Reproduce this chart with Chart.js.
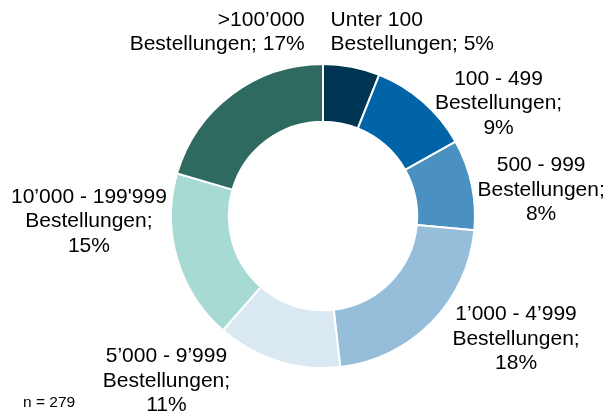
<!DOCTYPE html>
<html>
<head>
<meta charset="utf-8">
<script src="https://cdn.jsdelivr.net/npm/chart.js@4"></script>
<style>
  html, body { margin: 0; padding: 0; background: #fff; }
  #wrap { position: relative; width: 615px; height: 411px; }
</style>
</head>
<body>
<div id="wrap"><canvas id="bestellChart"></canvas></div>
<script>
// categories and shares (percent)
const categories = [
    "Unter 100",
    "100 - 499",
    "500 - 999",
    "1’000 - 4’999",
    "5’000 - 9’999",
    "10’000 - 199'999",
    ">100’000",
];
const shares = [5, 9, 8, 18, 11, 15, 17];
const sampleSize = 279;

const sliceColors = ["#003453", "#0064a6", "#4a90c0", "#96bedb", "#dae8f2", "#a7dad2", "#2e6a5f"];

// label lines per slice (how the text wraps)
const labelLines = [
    ["Unter 100", "Bestellungen; 5%"],
    ["100 - 499", "Bestellungen;", "9%"],
    ["500 - 999", "Bestellungen;", "8%"],
    ["1’000 - 4’999", "Bestellungen;", "18%"],
    ["5’000 - 9’999", "Bestellungen;", "11%"],
    ["10’000 - 199'999", "Bestellungen;", "15%"],
    [">100’000", "Bestellungen; 17%"],
];

// label anchor relative to centre, in units of the outer radius; align of the block
const labelPlace = [
    { dx: 0.05, dy: -1.21, align: "left" },
    { dx: 1.155, dy: -0.74, align: "center" },
    { dx: 1.435, dy: -0.17, align: "center" },
    { dx: 1.27, dy: 0.81, align: "center" },
    { dx: -1.03, dy: 1.085, align: "center" },
    { dx: -1.54, dy: 0.035, align: "center" },
    { dx: -0.12, dy: -1.21, align: "right" },
];

const outsideLabels = {
    id: "outsideLabels",
    afterDraw(chart) {
        const ctx = chart.ctx;
        const arcs = chart.getDatasetMeta(0).data;
        if (!arcs.length) return;
        const cx = arcs[0].x, cy = arcs[0].y, r = arcs[0].outerRadius;
        const lh = 24.5;
        ctx.save();
        ctx.fillStyle = "#000";
        ctx.font = '21px "Liberation Sans", Arial, sans-serif';
        ctx.textBaseline = "middle";
        labelLines.forEach((lines, i) => {
            const p = labelPlace[i];
            const x = cx + p.dx * r;
            const y0 = cy + p.dy * r - (lines.length - 1) * lh / 2;
            ctx.textAlign = p.align;
            lines.forEach((t, k) => ctx.fillText(t, x, y0 + k * lh));
        });
        ctx.font = '15.5px "Liberation Sans", Arial, sans-serif';
        ctx.textAlign = "left";
        ctx.fillText("n = " + sampleSize, 23, 403);
        ctx.restore();
    },
};

const ctx = document.getElementById("bestellChart").getContext("2d");
new Chart(ctx, {
    type: "doughnut",
    data: {
        labels: categories,
        datasets: [{
            data: shares,
            backgroundColor: sliceColors,
            borderColor: "#ffffff",
            borderWidth: 2,
            hoverOffset: 0,
        }],
    },
    options: {
        responsive: true,
        maintainAspectRatio: false,
        animation: false,
        cutout: "62%",
        layout: { padding: { top: 63, bottom: 42, left: 170, right: 139 } },
        plugins: {
            legend: { display: false },
            tooltip: { enabled: false },
        },
    },
    plugins: [outsideLabels],
});
</script>
</body>
</html>
